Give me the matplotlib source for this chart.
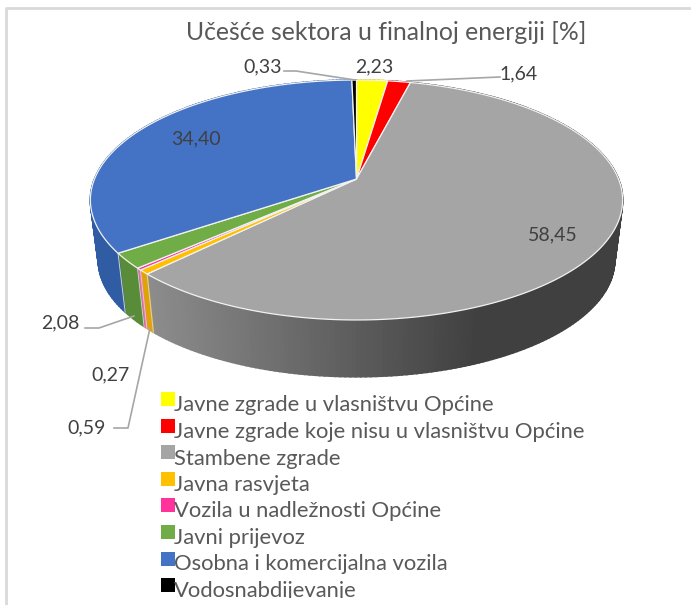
import numpy as np
import matplotlib
matplotlib.use("Agg")
import matplotlib.pyplot as plt
from matplotlib.patches import Rectangle

plt.rcParams["font.family"] = ["Lato", "DejaVu Sans"]

# dati del grafico
sektori = ["Javne zgrade u vlasništvu Općine", "Javne zgrade koje nisu u vlasništvu Općine",
           "Stambene zgrade", "Javna rasvjeta", "Vozila u nadležnosti Općine",
           "Javni prijevoz", "Osobna i komercijalna vozila", "Vodosnabdijevanje"]
vrijednosti = [2.23, 1.64, 58.45, 0.59, 0.27, 2.08, 34.40, 0.33]
oznake = ["2,23", "1,64", "58,45", "0,59", "0,27", "2,08", "34,40", "0,33"]
boje = ["#ffff00", "#ff0000", "#a5a5a5", "#ffc000", "#ff3399", "#70ad47", "#4472c4", "#000000"]
boje_bok = ["#bfbf00", "#bf0000", "#8c8c8c", "#e0a400", "#ff66b2", "#588c38", "#2f5ca3", "#000000"]

# posizioni delle etichette (pixel)
pos_oznake = [(374, 67), (519, 74), (553, 235), (87, 428), (111, 375), (60, 323), (196, 139), (263, 67)]
leader = {
    "0,33": [(284, 71), (296, 71), (355, 80)],
    "1,64": [(500, 77), (407, 81)],
    "2,08": [(85, 328), (99, 328), (134, 316)],
    "0,59": [(114, 428), (128, 428), (150, 328)],
}

fig = plt.figure(figsize=(6.91, 6.05), dpi=100)
ax = fig.add_axes([0, 0, 1, 1])
ax.set_xlim(0, 691)
ax.set_ylim(605, 0)
ax.axis("off")

# cornice
ax.plot([6.5, 6.5, 691], [605, 7.5, 7.5], color="#d9d9d9", lw=2, solid_capstyle="butt")


# proiezione del cerchio sulla torta 3D
def gornja(theta):
    u, v = np.sin(theta), np.cos(theta)
    w = 1 + 0.175 * v
    return 356.5 + 262 * u / w, 179 - 116.3 * v / w


def donja(theta):
    x, y = gornja(theta)
    return 356.5 + 0.97 * (x - 356.5), 240 + 0.97 * (y - 179)


kum = np.concatenate([[0], np.cumsum(vrijednosti)]) / sum(vrijednosti) * 2 * np.pi

# lati
for i in range(len(vrijednosti)):
    t = np.linspace(kum[i], kum[i + 1], max(2, int((kum[i + 1] - kum[i]) * 60)))
    for a, b in zip(t[:-1], t[1:]):
        x1, y1 = gornja(a)
        x2, y2 = gornja(b)
        x3, y3 = donja(b)
        x4, y4 = donja(a)
        col = boje_bok[i]
        if i == 2:
            # sfumatura del settore grigio
            f = np.clip((x1 - 150) / 330, 0, 1)
            g = (0x8c + (0x40 - 0x8c) * f) / 255
            col = (g, g, g)
        ax.fill([x1, x2, x3, x4], [y1, y2, y3, y4], color=col, lw=1.2, zorder=2)
    # separatore bianco sul lato
    if i != 0:
        x1, y1 = gornja(kum[i])
        x4, y4 = donja(kum[i])
        if np.cos(kum[i]) < 0:
            ax.plot([x1, x4], [y1, y4], color="#d0d0d0", lw=0.7, zorder=3)

# parte superiore
for i in range(len(vrijednosti)):
    t = np.linspace(kum[i], kum[i + 1], max(2, int((kum[i + 1] - kum[i]) * 60)))
    x, y = gornja(t)
    ax.fill(np.r_[356.5, x], np.r_[179, y], facecolor=boje[i], edgecolor="#f2f2f2", lw=0.9, zorder=4)

# linee guida ed etichette
for tocke in leader.values():
    ax.plot(*zip(*tocke), color="#a6a6a6", lw=1.2, zorder=5)
for txt, (x, y) in zip(oznake, pos_oznake):
    ax.text(x, y, txt, color="#404040", fontsize=14, ha="center", va="center", zorder=6)

ax.text(386.5, 33, "Učešće sektora u finalnoj energiji [%]", color="#595959",
        fontsize=17.8, ha="center", va="center")

# legenda
y_kvadrat = [392, 419, 445, 472, 498, 525, 552, 578]
y_tekst = [405, 432, 459, 485, 511, 538, 564, 591]
okvir = Rectangle((0, 0), 691, 598, transform=ax.transData)
for naziv, boja, yk, yt in zip(sektori, boje, y_kvadrat, y_tekst):
    ax.add_patch(Rectangle((161, yk), 14, 14, facecolor=boja, edgecolor="none", zorder=5))
    t = ax.text(174, yt, naziv, color="#595959", fontsize=15.8, ha="left", va="center", zorder=6)
    t.set_clip_path(okvir)
    t.set_clip_on(True)

fig.savefig("out.png", dpi=100)
